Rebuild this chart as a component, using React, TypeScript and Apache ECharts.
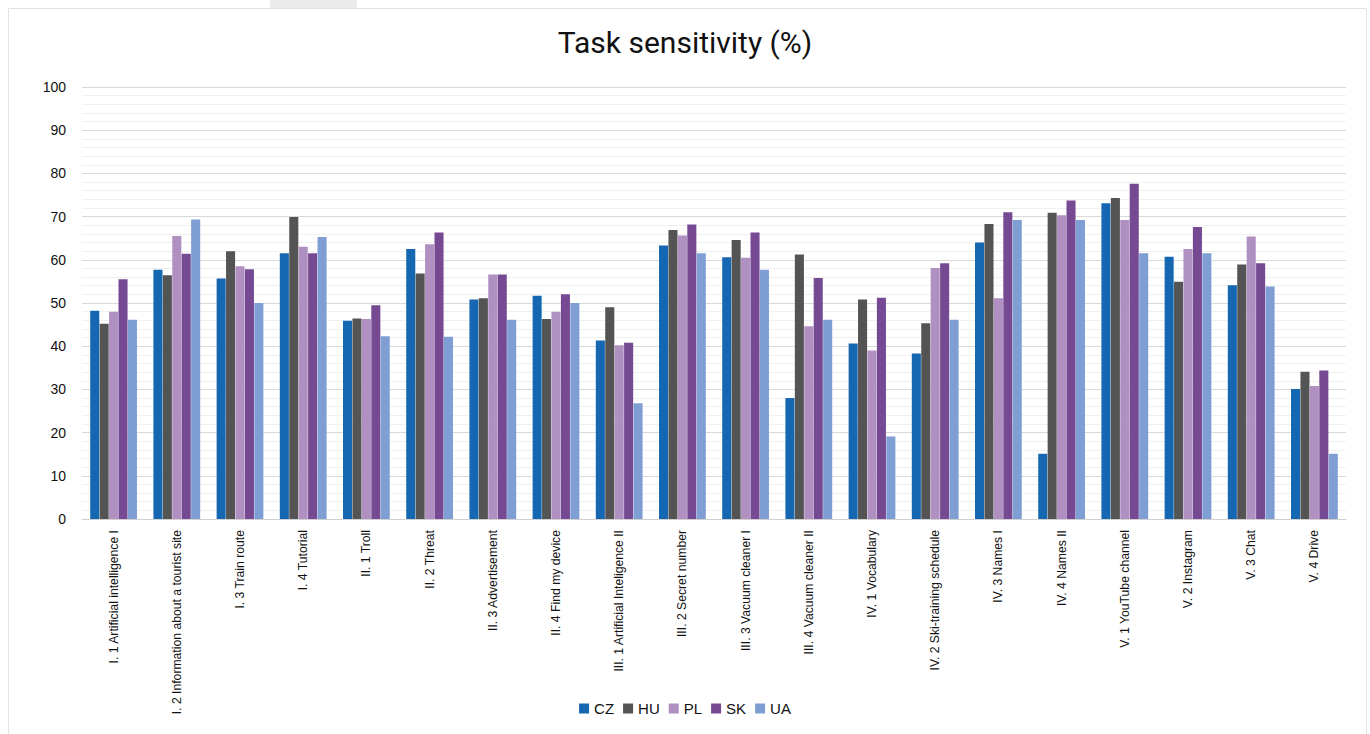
import React, { useEffect, useRef } from "react";
import * as echarts from "echarts";

const categories = [
  "I. 1 Artificial intelligence I",
  "I. 2 Information about a tourist site",
  "I. 3 Train route",
  "I. 4 Tutorial",
  "II. 1 Troll",
  "II. 2 Threat",
  "II. 3 Advertisement",
  "II. 4 Find my device",
  "III. 1 Artificial Inteligence II",
  "III. 2 Secret number",
  "III. 3 Vacuum cleaner I",
  "III. 4 Vacuum cleaner II",
  "IV. 1 Vocabulary",
  "IV. 2 Ski-training schedule",
  "IV. 3 Names I",
  "IV. 4 Names II",
  "V. 1 YouTube channel",
  "V. 2 Instagram",
  "V. 3 Chat",
  "V. 4 Drive",
];

const CZ = [48.2, 57.7, 55.7, 61.5, 45.9, 62.5, 50.8, 51.7, 41.3, 63.3, 60.6, 28.0, 40.6, 38.3, 64.0, 15.1, 73.1, 60.7, 54.1, 30.1];
const HU = [45.2, 56.4, 62.0, 69.9, 46.4, 56.8, 51.1, 46.3, 49.0, 66.9, 64.6, 61.2, 50.8, 45.3, 68.3, 70.9, 74.3, 54.9, 58.9, 34.1];
const PL = [48.0, 65.5, 58.5, 63.0, 46.3, 63.6, 56.6, 48.0, 40.2, 65.6, 60.5, 44.6, 39.0, 58.1, 51.1, 70.3, 69.2, 62.5, 65.4, 30.8];
const SK = [55.5, 61.4, 57.8, 61.5, 49.5, 66.3, 56.6, 52.0, 40.8, 68.2, 66.3, 55.8, 51.2, 59.2, 71.0, 73.7, 77.6, 67.6, 59.2, 34.4];
const UA = [46.1, 69.3, 50.0, 65.3, 42.3, 42.2, 46.1, 50.0, 26.8, 61.5, 57.7, 46.1, 19.1, 46.1, 69.2, 69.2, 61.5, 61.5, 53.8, 15.1];

const seriesNames = ["CZ", "HU", "PL", "SK", "UA"];
const seriesData = [CZ, HU, PL, SK, UA];
const seriesColors = ["#1667B2", "#545454", "#B08FC1", "#764A93", "#7F9ED3"];

export default function App() {
  const ref = useRef<HTMLDivElement>(null);
  useEffect(() => {
    const chart = echarts.init(ref.current!, null, { renderer: "svg" });
    chart.setOption({
      animation: false,
      backgroundColor: "#ffffff",
      title: {
        text: "Task sensitivity (%)",
        left: "center",
        top: 22,
        textStyle: {
          fontFamily: "Roboto, 'Noto Sans', sans-serif",
          fontSize: 30,
          fontWeight: "normal",
          color: "#111",
        },
      },
      graphic: [
        { type: "rect", shape: { x: 270, y: 0, width: 87, height: 8 }, style: { fill: "#ebebeb" } },
        {
          type: "rect",
          shape: { x: 8.5, y: 8.5, width: 1358, height: 740 },
          style: { fill: "none", stroke: "#e2e2e2", lineWidth: 1 },
        },
      ],
      legend: {
        data: seriesNames,
        bottom: 13,
        left: "center",
        icon: "rect",
        itemWidth: 10,
        itemHeight: 10,
        itemGap: 9,
        textStyle: {
          fontFamily: "'Liberation Sans Narrow', 'Liberation Sans', Arial, sans-serif",
          fontSize: 15,
          color: "#111",
        },
      },
      grid: { left: 82, right: 24, top: 87, bottom: 215, containLabel: false },
      xAxis: {
        type: "category",
        data: categories,
        axisTick: { show: false },
        axisLine: { lineStyle: { color: "#d0d0d0", width: 1 } },
        axisLabel: {
          rotate: 90,
          interval: 0,
          margin: 11,
          fontFamily: "'Liberation Sans', Arial, sans-serif",
          fontSize: 12.2,
          color: "#111",
        },
      },
      yAxis: {
        type: "value",
        min: 0,
        max: 100,
        interval: 10,
        axisLine: { show: false },
        axisTick: { show: false },
        axisLabel: {
          margin: 16,
          fontFamily: "'Liberation Sans', Arial, sans-serif",
          fontSize: 14,
          color: "#111",
        },
        splitLine: { show: true, lineStyle: { color: "#d9d9d9", width: 1 } },
        minorTick: { show: false, splitNumber: 5 },
        minorSplitLine: { show: true, lineStyle: { color: "#f0f0f0", width: 1 } },
      },
      series: seriesNames.map((name, i) => ({
        name,
        type: "bar",
        data: seriesData[i],
        barGap: "4%",
        barCategoryGap: "26%",
        itemStyle: { color: seriesColors[i] },
      })),
    });
    return () => chart.dispose();
  }, []);
  return <div ref={ref} style={{ width: 1370, height: 734, position: "absolute", left: 0, top: 0 }} />;
}
